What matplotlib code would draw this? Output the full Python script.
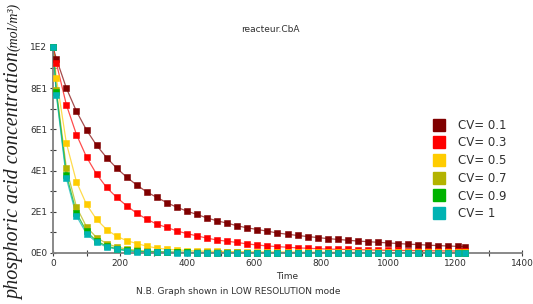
import numpy as np
import matplotlib
matplotlib.use("Agg")
import matplotlib.pyplot as plt
from matplotlib.lines import Line2D
from matplotlib.ticker import FixedLocator, FixedFormatter, MultipleLocator

# sample times (s)
times = [0, 10] + [40 + 30 * k for k in range(40)] + [1230]

cv_labels = ["CV= 0.1", "CV= 0.3", "CV= 0.5", "CV= 0.7", "CV= 0.9", "CV= 1"]
colors = ["#800000", "#ff0000", "#ffcc00", "#b3b300", "#00b300", "#00b3b3"]

cv01 = [100, 94.3, 80, 68.8, 59.7, 52.3, 46.3, 41.2, 36.8, 33.0,
        29.6, 27.0, 24.4, 22.2, 20.3, 18.7, 17.0, 15.6, 14.5, 13.2,
        12.2, 11.4, 10.6, 9.7, 9.1, 8.5, 8.0, 7.5, 7.0, 6.6,
        6.2, 5.8, 5.5, 5.2, 4.9, 4.6, 4.3, 4.1, 3.8, 3.6,
        3.4, 3.2, 3.0]
cv03 = [100, 92.2, 71.9, 57.5, 46.6, 38.3, 31.8, 27.0, 22.9, 19.3,
        16.4, 14.0, 12.4, 10.7, 9.4, 8.3, 7.2, 6.3, 5.7, 5.1,
        4.4, 3.9, 3.4, 3.1, 2.8, 2.5, 2.3, 2.1, 1.9, 1.8,
        1.7, 1.6, 1.5, 1.4, 1.3, 1.25, 1.2, 1.15, 1.1, 1.05,
        1.0, 1.0, 0.95]
cv05 = [100, 85.0, 53.3, 34.6, 23.6, 16.3, 11.4, 8.1, 6.0, 4.6,
        3.3, 2.4, 1.8, 1.5, 1.2, 1.0, 0.9, 0.8, 0.7, 0.65,
        0.6, 0.55, 0.5, 0.5, 0.45, 0.45, 0.4, 0.4, 0.4, 0.35,
        0.35, 0.35, 0.3, 0.3, 0.3, 0.3, 0.3, 0.3, 0.3, 0.3,
        0.3, 0.3, 0.3]
cv07 = [100, 79.2, 41.1, 22.4, 12.7, 7.5, 4.6, 2.9, 1.9, 1.3,
        0.9, 0.7, 0.5, 0.4, 0.35, 0.3, 0.3, 0.25, 0.25, 0.25,
        0.2, 0.2, 0.2, 0.2, 0.2, 0.2, 0.2, 0.2, 0.2, 0.2,
        0.2, 0.2, 0.2, 0.2, 0.2, 0.2, 0.2, 0.2, 0.2, 0.2,
        0.2, 0.2, 0.2]
cv09 = [100, 78.0, 38.0, 19.5, 10.5, 5.8, 3.4, 2.1, 1.3, 0.8,
        0.6, 0.45, 0.35, 0.3, 0.25, 0.2, 0.2, 0.15, 0.15, 0.15,
        0.15, 0.15, 0.15, 0.15, 0.15, 0.15, 0.15, 0.15, 0.15, 0.15,
        0.15, 0.15, 0.15, 0.15, 0.15, 0.15, 0.15, 0.15, 0.15, 0.15,
        0.15, 0.15, 0.15]
cv10 = [100, 76.8, 36.2, 18.0, 9.4, 5.2, 2.9, 1.8, 1.0, 0.6,
        0.4, 0.3, 0.25, 0.2, 0.15, 0.1, 0.1, 0.1, 0.1, 0.1,
        0.1, 0.1, 0.1, 0.1, 0.1, 0.1, 0.1, 0.1, 0.1, 0.1,
        0.1, 0.1, 0.1, 0.1, 0.1, 0.1, 0.1, 0.1, 0.1, 0.1,
        0.1, 0.1, 0.1]
series = [cv01, cv03, cv05, cv07, cv09, cv10]

y_ticks = [0, 20, 40, 60, 80, 100]
y_tick_labels = ["0E0", "2E1", "4E1", "6E1", "8E1", "1E2"]
x_ticks = [0, 200, 400, 600, 800, 1000, 1200, 1400]

W, H = 533, 304
fig = plt.figure(figsize=(W / 100, H / 100), dpi=100)
ax = fig.add_axes([53 / W, (H - 253) / H, (522 - 53) / W, (253 - 47) / H])

for vals, col in zip(series, colors):
    ax.plot(times, vals, color=col, lw=0.9, alpha=0.7, clip_on=False, zorder=2)
    ax.plot(times, vals, ls="none", marker="s", ms=4.6, mfc=col,
            mec=col, mew=0.4, clip_on=False, zorder=3)

ax.set_xlim(0, 1400)
ax.set_ylim(0, 100)
for s in ("top", "right"):
    ax.spines[s].set_visible(False)
for s in ("left", "bottom"):
    ax.spines[s].set_color("#808080")
    ax.spines[s].set_linewidth(1.3)

ax.xaxis.set_major_locator(FixedLocator(x_ticks))
ax.xaxis.set_minor_locator(MultipleLocator(100))
ax.yaxis.set_major_locator(FixedLocator(y_ticks))
ax.yaxis.set_major_formatter(FixedFormatter(y_tick_labels))
ax.yaxis.set_minor_locator(MultipleLocator(10))
ax.tick_params(which="both", direction="inout", color="#404040", width=0.8,
               labelsize=6.5, labelcolor="#303030", pad=1.5)
ax.tick_params(which="major", length=5)
ax.tick_params(which="minor", length=5)

ax.set_xlabel("Time", fontsize=6.5, color="#303030", labelpad=3)

handles = [Line2D([], [], ls="none", marker="s", ms=9, mfc=c, mec=c)
           for c in colors]
ax.legend(handles, cv_labels, loc="upper left",
          bbox_to_anchor=((427 - 53) / (522 - 53), (253 - 114) / (253 - 47)),
          frameon=False, fontsize=8.5, labelspacing=0.4, handletextpad=0.9,
          handlelength=1.3, borderaxespad=0, labelcolor="#303030")

fig.text(270 / W, 1 - 30 / H, "reacteur.CbA", ha="center", va="center",
         fontsize=6.5, color="#303030")
fig.text(238 / W, 1 - 292 / H, "N.B. Graph shown in LOW RESOLUTION mode",
         ha="center", va="center", fontsize=6.5, color="#303030")

fig.text(15 / W, 1 - 52 / H, "phosphoric acid concentration", rotation=90,
         ha="center", va="top", fontsize=14.5, style="italic",
         family="Liberation Serif", color="#202020")
fig.text(14 / W, 1 - 3 / H, "(mol/m³)", rotation=90,
         ha="center", va="top", fontsize=10, style="italic",
         family="Liberation Serif", color="#202020")

fig.savefig("out.png", dpi=100)
